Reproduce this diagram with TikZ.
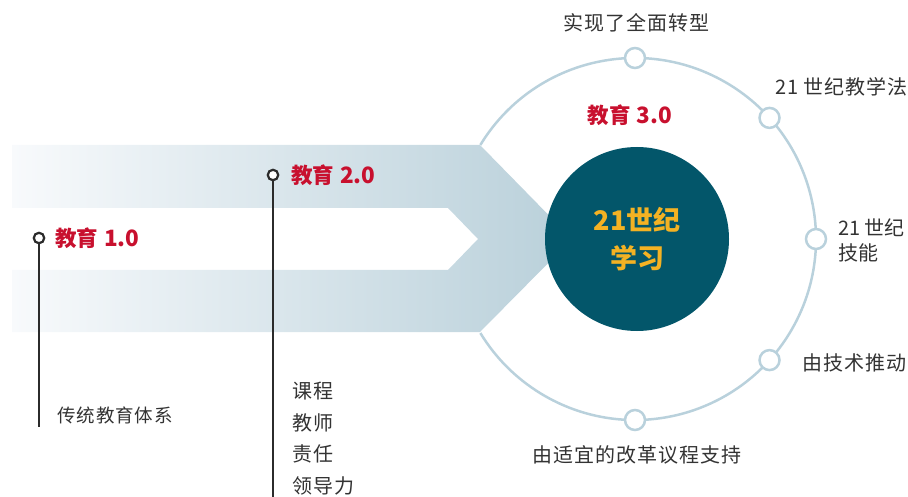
\documentclass[tikz,border=0pt]{standalone}
\usepackage{fontspec}
\setmainfont{Noto Sans CJK SC}
\newfontfamily\lblfont{Noto Sans CJK SC}[LetterSpace=5]
\definecolor{edred}{HTML}{C8102E}
\definecolor{edgold}{HTML}{F4B223}
\definecolor{edteal}{HTML}{03566A}
\definecolor{ringc}{HTML}{B9D1DC}
\definecolor{bandR}{HTML}{B9D0DA}
\definecolor{bandL}{HTML}{F8FAFC}
\definecolor{stemc}{HTML}{2B2B2B}
\definecolor{txtc}{HTML}{333333}
\tikzset{
  ringdot/.style={circle, draw=ringc, line width=2.5pt, fill=white, minimum size=20pt, inner sep=0pt},
  marker/.style={circle, draw=stemc, line width=2.2pt, fill=white, minimum size=10.5pt, inner sep=0pt},
  stem/.style={draw=stemc, line width=2pt},
  title/.style={text=edred, font=\bfseries\fontsize{21.5}{25}\selectfont, inner sep=0pt},
  lbl/.style={text=txtc, font=\lblfont\fontsize{20}{25}\selectfont, inner sep=0pt},
}
\newcommand{\ednum}[1]{{\fontsize{22.5}{25}\selectfont #1}}
\begin{document}
\begin{tikzpicture}[x=1pt,y=-1pt]
\useasboundingbox (0,0) rectangle (908,497);
% ring (visible part only)
\coordinate (C) at (635,239);
\draw[ringc, line width=2.5pt] (C) ++(148.7:181pt) arc[start angle=148.7, end angle=-148.7, radius=181pt];
% bands (chevron)
\shade[left color=bandL, right color=bandR]
  (12,145) -- (480,145) -- (572,239) -- (480,332) -- (12,332) -- (12,270)
  -- (448,270) -- (478,239) -- (448,208) -- (12,208) -- cycle;
% core circle
\node[circle, fill=edteal, minimum size=184pt, inner sep=0pt, align=center,
      text=edgold, font=\bfseries\fontsize{27}{38}\selectfont] (core) at (637,239) {21世纪\\学习};
% ring dots
\path (C) ++(90:181pt) node[ringdot] (r1) {};
\path (C) ++(42:181pt) node[ringdot] (r2) {};
\path (C) ++(0:181pt) node[ringdot] (r3) {};
\path (C) ++(-42:181pt) node[ringdot] (r4) {};
\path (C) ++(-90:181pt) node[ringdot] (r5) {};
% ring labels
\node[lbl] (l1) at (636,23) {实现了全面转型};
\node[lbl, anchor=west] (l2) at (775,87) {21 世纪教学法};
\node[text=txtc, font=\fontsize{20}{25}\selectfont, inner sep=0pt, anchor=west, align=left] (l3) at (838,240) {21 世纪\\技能};
\node[lbl, anchor=west] (l4) at (802,363) {由技术推动};
\node[lbl] (l5) at (637,455) {由适宜的改革议程支持};
\node[title] (t3) at (630,115) {教育\hspace{6pt}\ednum{3.0}};
% education 1.0
\node[marker] (m1) at (39,238) {};
\coordinate (m1e) at (39,427);
\draw[stem] (m1) -- (m1e);
\node[title, anchor=west] (t1) at (55,238) {教育\hspace{6pt}\ednum{1.0}};
\node[lbl, anchor=west, font=\lblfont\fontsize{18.5}{25}\selectfont] (d1) at (57,415) {传统教育体系};
% education 2.0
\node[marker] (m2) at (273,175) {};
\coordinate (m2e) at (273,497);
\draw[stem] (m2) -- (m2e);
\node[title, anchor=west] (t2) at (291,175) {教育\hspace{6pt}\ednum{2.0}};
\node[lbl, anchor=west] (d2a) at (292,391) {课程};
\node[lbl, anchor=west] (d2b) at (292,423) {教师};
\node[lbl, anchor=west] (d2c) at (292,454) {责任};
\node[lbl, anchor=west] (d2d) at (292,486) {领导力};
\end{tikzpicture}
\end{document}
